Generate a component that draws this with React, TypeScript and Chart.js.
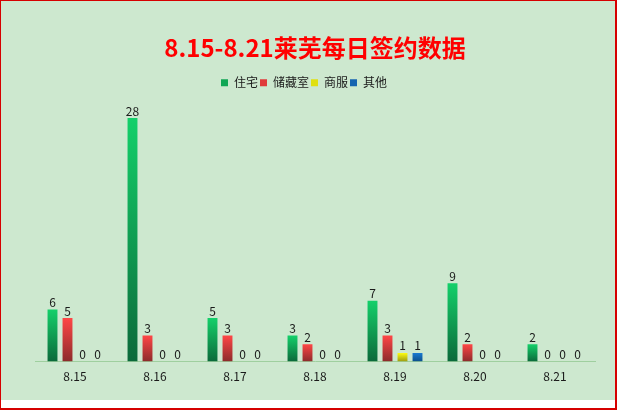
import { useEffect, useRef } from 'react';
import { Chart, registerables } from 'chart.js';

Chart.register(...registerables);

const categories = ['8.15', '8.16', '8.17', '8.18', '8.19', '8.20', '8.21'];
const seriesNames = ['住宅', '储藏室', '商服', '其他'];
const housing = [6, 28, 5, 3, 7, 9, 2];
const storage = [5, 3, 3, 2, 3, 2, 0];
const commercial = [0, 0, 0, 0, 1, 0, 0];
const other = [0, 0, 0, 0, 1, 0, 0];

const FONT = '"Microsoft YaHei", "Noto Sans CJK SC", sans-serif';
const BG = '#cde8cf';

// [top, bottom, legend] colours per series
const SHADES = [
  ['#14d06a', '#0b693a', '#10a655'],
  ['#ff4646', '#8c2b2b', '#e03a3a'],
  ['#ffff10', '#9c9a12', '#e0e010'],
  ['#1a7ad2', '#0b4e8a', '#1464b0']
];

const gradientFor = (i: number) => (ctx: any) => {
  const [top, bot, flat] = SHADES[i];
  const ys = ctx.chart.scales?.y;
  if (ctx.type !== 'data' || !ys) return flat;
  const y0 = ys.getPixelForValue(0);
  const y1 = ys.getPixelForValue(ctx.raw);
  if (!isFinite(y0) || !isFinite(y1) || y0 - y1 < 1) return flat;
  const g = ctx.chart.ctx.createLinearGradient(0, y1, 0, y0);
  g.addColorStop(0, top);
  g.addColorStop(1, bot);
  return g;
};

const valueLabels = {
  id: 'valueLabels',
  afterDatasetsDraw(chart: any) {
    const c = chart.ctx;
    c.save();
    c.font = `12px ${FONT}`;
    c.fillStyle = '#1a1a1a';
    c.textAlign = 'center';
    c.textBaseline = 'bottom';
    chart.data.datasets.forEach((ds: any, di: number) => {
      chart.getDatasetMeta(di).data.forEach((el: any, i: number) => {
        c.fillText(String(ds.data[i]), el.x, el.y - 1);
      });
    });
    c.restore();
  }
};

// legend in the original sits a little left of the title's centre
const nudgeLegend = {
  id: 'nudgeLegend',
  afterLayout(chart: any) {
    if (!chart.legend) return;
    chart.legend.left -= 11;
    chart.legend.right -= 11;
  }
};

export default function App() {
  const ref = useRef<HTMLCanvasElement | null>(null);

  useEffect(() => {
    if (!ref.current) return;
    const all = [housing, storage, commercial, other];
    const chart = new Chart(ref.current, {
      type: 'bar',
      data: {
        labels: categories,
        datasets: seriesNames.map((name, i) => ({
          label: name,
          data: all[i],
          backgroundColor: gradientFor(i),
          borderWidth: 0,
          categoryPercentage: 0.75,
          barPercentage: 0.66
        }))
      },
      options: {
        animation: false,
        responsive: false,
        maintainAspectRatio: false,
        layout: { padding: { left: 34, right: 20, top: 0, bottom: 16 } },
        plugins: {
          title: {
            display: true,
            text: '8.15-8.21莱芜每日签约数据',
            color: '#ff0000',
            font: { family: FONT, size: 24, weight: 'bold' },
            padding: { top: 32, bottom: 13 }
          },
          legend: {
            display: true,
            labels: {
              boxWidth: 7,
              boxHeight: 7,
              padding: 2,
              color: '#1a1a1a',
              font: { family: FONT, size: 12 },
              generateLabels: (ch: any) =>
                ch.data.datasets.map((d: any, i: number) => ({
                  text: d.label,
                  fillStyle: SHADES[i][2],
                  strokeStyle: SHADES[i][2],
                  lineWidth: 0,
                  datasetIndex: i,
                  fontColor: '#1a1a1a'
                }))
            }
          },
          tooltip: { enabled: false }
        },
        scales: {
          x: {
            grid: { display: false },
            border: { display: true, color: '#9fcf9f', width: 1 },
            ticks: { color: '#1a1a1a', font: { family: FONT, size: 12 }, padding: 0 }
          },
          y: {
            display: false,
            min: 0,
            max: 30.2
          }
        }
      },
      plugins: [valueLabels, nudgeLegend]
    });
    return () => chart.destroy();
  }, []);

  return (
    <div
      style={{
        position: 'absolute',
        left: 0,
        top: 0,
        width: 617,
        height: 410,
        boxSizing: 'border-box',
        borderStyle: 'solid',
        borderColor: '#d60000',
        borderWidth: '1px 2px 2px 1px',
        background: '#ffffff'
      }}
    >
      <div style={{ width: 614, height: 399, background: BG }}>
        <canvas ref={ref} width={614} height={399} style={{ display: 'block', width: 614, height: 399 }} />
      </div>
    </div>
  );
}
